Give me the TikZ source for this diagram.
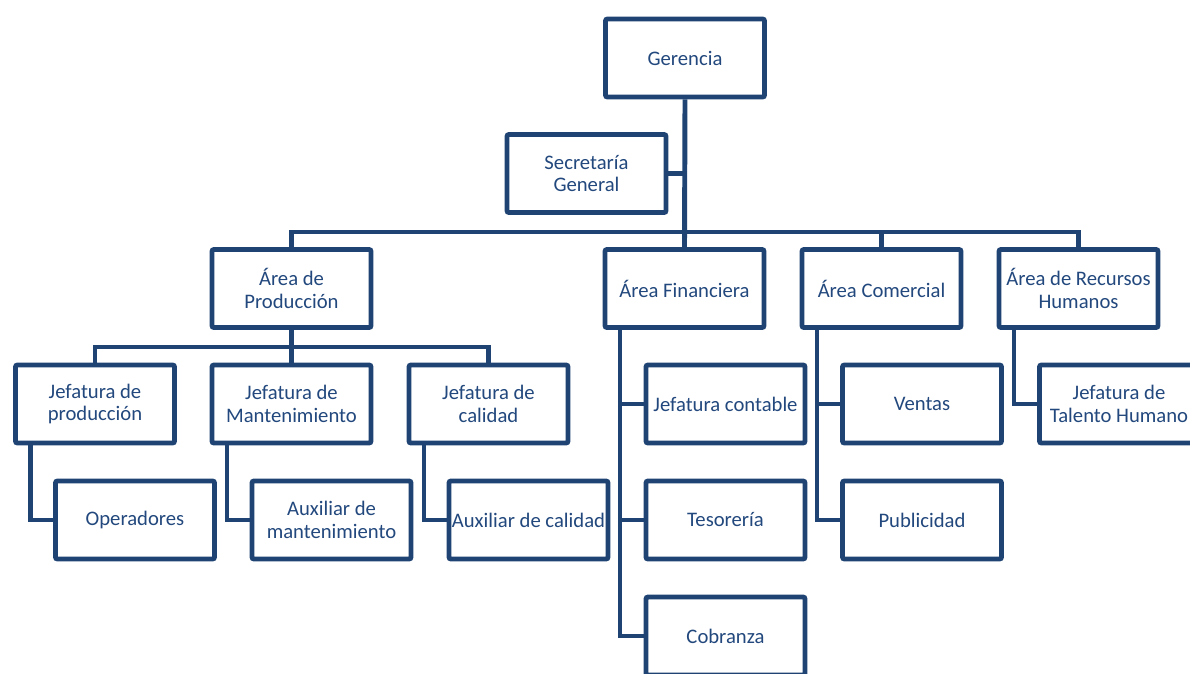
\documentclass[tikz,border=0pt]{standalone}
\usepackage{fontspec}
\setmainfont{Carlito}
\usepackage{tikz}
\usetikzlibrary{calc}
\definecolor{linea}{RGB}{31,67,115}
\definecolor{texto}{RGB}{34,72,125}

\begin{document}
\begin{tikzpicture}[x=0.025cm, y=-0.025cm,
  caja/.style={draw=linea, line width=3.5pt, rounded corners=1.5pt, fill=white,
    minimum width=3.975cm, minimum height=1.95cm, inner sep=0pt, align=center,
    text=texto, font=\fontsize{14.7}{16.2}\selectfont},
  enlace/.style={draw=linea, line width=3.5pt}]
\useasboundingbox (0,0) rectangle (1190,673) ;
\clip (0,0) rectangle (1190,673) ;
% niveles superiores
\node[caja] (ger) at (685,58) {Gerencia} ;
\node[caja] (sec) at (586.5,173.5) {Secretaría\\General} ;
\node[caja] (prod) at (291.5,288.5) {Área de\\Producción} ;
\node[caja] (fin) at (684.5,288.5) {Área Financiera} ;
\node[caja] (com) at (881.5,288.5) {Área Comercial} ;
\node[caja] (rrhh) at (1078.5,288.5) {Área de Recursos\\Humanos} ;
% produccion
\node[caja] (jprod) at (95,404) {Jefatura de\\producción} ;
\node[caja] (jmant) at (291.5,404) {Jefatura de\\Mantenimiento} ;
\node[caja] (jcal) at (488.5,404) {Jefatura de\\calidad} ;
\node[caja] (oper) at (135,520) {Operadores} ;
\node[caja] (auxm) at (331.5,520) {Auxiliar de\\mantenimiento} ;
\node[caja] (auxc) at (528.5,520) {Auxiliar de calidad} ;
% financiera, comercial, rrhh
\node[caja] (jcont) at (725.5,404) {Jefatura contable} ;
\node[caja] (tes) at (725.5,520) {Tesorería} ;
\node[caja] (cob) at (725.5,636) {Cobranza} ;
\node[caja] (ven) at (922,404) {Ventas} ;
\node[caja] (pub) at (922,520) {Publicidad} ;
\node[caja] (jtal) at (1119,404) {Jefatura de\\Talento Humano} ;
% lineas
\coordinate (bus) at (685,232) ;
\coordinate (busprod) at (291.5,347) ;
\draw[enlace] (ger.south) -- (fin.north) ;
\draw[enlace] (sec.east) -- (sec.east -| ger.south) ;
\draw[enlace] (prod.north) |- (bus) -| (rrhh.north) ;
\draw[enlace] (com.north) -- (com.north |- bus) ;
\draw[enlace] (jprod.north) |- (busprod) -| (jcal.north) ;
\draw[enlace] (prod.south) -- (jmant.north) ;
\coordinate (sp) at ($(jprod.south west)+(17.5,0)$) ;
\coordinate (sm) at ($(jmant.south west)+(17.5,0)$) ;
\coordinate (sc) at ($(jcal.south west)+(17.5,0)$) ;
\coordinate (sf) at ($(fin.south west)+(17.5,0)$) ;
\coordinate (sv) at ($(com.south west)+(17.5,0)$) ;
\coordinate (sr) at ($(rrhh.south west)+(17.5,0)$) ;
\draw[enlace] (sp) |- (oper.west) ;
\draw[enlace] (sm) |- (auxm.west) ;
\draw[enlace] (sc) |- (auxc.west) ;
\draw[enlace] (sf) |- (cob.west) ;
\draw[enlace] (sf |- jcont.west) -- (jcont.west) ;
\draw[enlace] (sf |- tes.west) -- (tes.west) ;
\draw[enlace] (sv) |- (pub.west) ;
\draw[enlace] (sv |- ven.west) -- (ven.west) ;
\draw[enlace] (sr) |- (jtal.west) ;
\end{tikzpicture}
\end{document}
